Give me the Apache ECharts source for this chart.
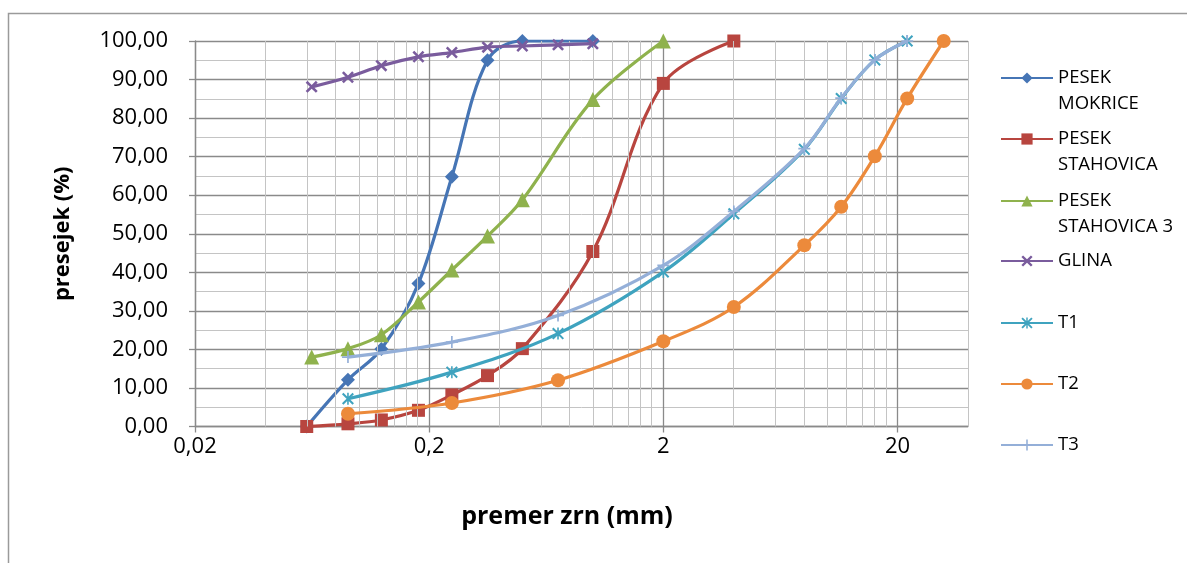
<!DOCTYPE html>
<html>
<head>
<meta charset="utf-8">
<title>Granulometrijska krivulja</title>
<script src="https://cdn.jsdelivr.net/npm/echarts@6/dist/echarts.min.js"></script>
<style>
  html, body { margin: 0; padding: 0; background: #ffffff; }
  #chart { width: 1187px; height: 563px; }
</style>
</head>
<body>
<div id="chart"></div>
<script>
// ---- data ---------------------------------------------------------------
// Sieve openings (mm) and passing percentages for each sample.
const X_MIN = 0.02;
const X_MAX = 40;
const xTickValues = [0.02, 0.2, 2, 20];
const yTickValues = [0, 10, 20, 30, 40, 50, 60, 70, 80, 90, 100];

const seriesNames = ['PESEK MOKRICE', 'PESEK STAHOVICA', 'PESEK STAHOVICA 3', 'GLINA', 'T1', 'T2', 'T3'];

const sizeMokrice = [0.06, 0.09, 0.125, 0.18, 0.25, 0.355, 0.5, 1.0];
const passMokrice = [0, 12.1, 20.1, 37.1, 64.8, 95.0, 100, 100];

const sizeStahovica = [0.06, 0.09, 0.125, 0.18, 0.25, 0.355, 0.5, 1.0, 2, 4];
const passStahovica = [0, 0.7, 1.7, 4.2, 8.2, 13.2, 20.2, 45.4, 89.0, 100];

const sizeStahovica3 = [0.063, 0.09, 0.125, 0.18, 0.25, 0.355, 0.5, 1.0, 2];
const passStahovica3 = [18.0, 20.2, 23.8, 32.3, 40.6, 49.4, 58.8, 84.8, 100];

const sizeGlina = [0.063, 0.09, 0.125, 0.18, 0.25, 0.355, 0.5, 0.71, 1.0];
const passGlina = [88.1, 90.6, 93.6, 95.9, 97.0, 98.4, 98.7, 99.0, 99.3];

const sizeT1 = [0.09, 0.25, 0.71, 2, 4, 8, 11.5, 16, 22];
const passT1 = [7.2, 14.1, 24.1, 40.1, 55.2, 71.9, 85.1, 95.1, 100];

const sizeT2 = [0.09, 0.25, 0.71, 2, 4, 8, 11.5, 16, 22, 31.5];
const passT2 = [3.3, 6.1, 12.0, 22.1, 31.0, 47.0, 57.0, 70.1, 85.1, 100];

const sizeT3 = [0.09, 0.25, 0.71, 2, 4, 8, 11.5, 16, 22];
const passT3 = [18.0, 21.9, 28.8, 41.8, 55.8, 72.1, 85.2, 95.1, 100];

// ---- helpers ------------------------------------------------------------
// The horizontal axis is logarithmic: positions are decades above X_MIN.
const toAxis = d => Math.log10(d / X_MIN);
const fromAxis = u => X_MIN * Math.pow(10, u);
const fmtComma = v => String(+v.toPrecision(3)).replace('.', ',');
const pairs = (xs, ys) => xs.map((x, i) => [toAxis(x), ys[i]]);

// Minor vertical grid: 2..9 multiples inside each decade (0.04, 0.06 ... 18)
const minorX = [];
for (let dec = 0; dec < 3; dec++) {
  for (let k = 2; k <= 9; k++) {
    minorX.push(toAxis(xTickValues[dec] * k));
  }
}
minorX.push(toAxis(X_MAX));

// Marker shapes
const SYM_X = 'path://M0,1.5L1.5,0L5,3.5L8.5,0L10,1.5L6.5,5L10,8.5L8.5,10L5,6.5L1.5,10L0,8.5L3.5,5Z';
const SYM_STAR = 'path://M0,1.2L1.2,0L5,3.8L8.8,0L10,1.2L6.2,5L10,8.8L8.8,10L5,6.2L1.2,10L0,8.8L3.8,5Z' +
                 'M4.35,0L5.65,0L5.65,10L4.35,10Z';
const SYM_PLUS = 'path://M4.3,0L5.7,0L5.7,4.3L10,4.3L10,5.7L5.7,5.7L5.7,10L4.3,10L4.3,5.7L0,5.7L0,4.3L4.3,4.3Z';

const colors = ['#4675b5', '#b8453f', '#8fb24d', '#7a5c9d', '#3fa3bf', '#ec8a3b', '#94afd8'];
const symbols = ['diamond', 'rect', 'triangle', SYM_X, SYM_STAR, 'circle', SYM_PLUS];
const symbolSizes = [14, 13, 15, 12, 12, 14, 12];
const dataSets = [
  pairs(sizeMokrice, passMokrice),
  pairs(sizeStahovica, passStahovica),
  pairs(sizeStahovica3, passStahovica3),
  pairs(sizeGlina, passGlina),
  pairs(sizeT1, passT1),
  pairs(sizeT2, passT2),
  pairs(sizeT3, passT3)
];

const FONT = '"Open Sans", "Noto Sans", sans-serif';
const GRID_DARK = '#8a8a8a';
const GRID_LIGHT = '#c4c4c4';

const series = seriesNames.map((name, i) => ({
  name: name,
  type: 'line',
  data: dataSets[i],
  smooth: 0.35,
  symbol: symbols[i],
  symbolSize: symbolSizes[i],
  showAllSymbol: true,
  z: 3 + i,
  lineStyle: { color: colors[i], width: 3.2 },
  itemStyle: { color: colors[i], borderWidth: 0 },
  emphasis: { disabled: true }
}));

// Minor vertical grid lines drawn behind the curves
series.unshift({
  name: 'minor-grid',
  type: 'line',
  data: [],
  z: 1,
  silent: true,
  markLine: {
    silent: true,
    symbol: 'none',
    label: { show: false },
    lineStyle: { color: GRID_LIGHT, width: 1, type: 'solid' },
    emphasis: { disabled: true },
    data: minorX.map(u => ({ xAxis: u }))
  }
});

// Legend: one block per entry, stacked down the right side.
// Two-word names wrap; a leading blank line keeps the icon level with the first word.
const legendCenters = [78, 139, 201, 261, 323, 384, 445];
const LH = 26;
const legends = seriesNames.map((name, i) => {
  const twoLine = name.indexOf('PESEK ') === 0;
  return {
    orient: 'vertical',
    left: 1000,
    top: legendCenters[i] - (twoLine ? LH * 1.5 : LH / 2),
    padding: 0,
    data: [name],
    itemWidth: 52,
    itemHeight: 14,
    selectedMode: false,
    formatter: n => (twoLine ? ' \n' + n.replace('PESEK ', 'PESEK\n') : n),
    textStyle: {
      fontFamily: FONT,
      fontSize: 18.5,
      color: '#000',
      lineHeight: LH
    }
  };
});

const chart = echarts.init(document.getElementById('chart'), null, { renderer: 'canvas' });
chart.setOption({
  animation: false,
  backgroundColor: '#ffffff',
  grid: { left: 195, top: 41, right: 219, bottom: 136.5, containLabel: false },
  legend: legends,
  xAxis: {
    type: 'value',
    min: 0,
    max: toAxis(X_MAX),
    interval: 1,
    name: 'premer zrn (mm)',
    nameLocation: 'middle',
    nameGap: 78,
    nameTextStyle: { fontFamily: FONT, fontSize: 25, fontWeight: 'bold', color: '#000',
                     padding: [0, 29, 0, 0] },
    axisLine: { show: true, lineStyle: { color: GRID_DARK, width: 1.3 } },
    axisTick: { show: true, length: 6, lineStyle: { color: GRID_DARK, width: 1.3 },
                customValues: xTickValues.map(toAxis) },
    axisLabel: {
      margin: 9,
      fontFamily: FONT, fontSize: 22, color: '#000',
      customValues: xTickValues.map(toAxis),
      formatter: u => {
        const r = Math.round(u);
        return Math.abs(u - r) < 1e-6 ? fmtComma(fromAxis(r)) : '';
      }
    },
    splitLine: { show: true, lineStyle: { color: GRID_DARK, width: 1.3 } }
  },
  yAxis: {
    type: 'value',
    min: 0,
    max: 100,
    interval: 10,
    name: 'presejek (%)',
    nameLocation: 'middle',
    nameRotate: 90,
    nameGap: 121,
    nameTextStyle: { fontFamily: FONT, fontSize: 22, fontWeight: 'bold', color: '#000' },
    axisLine: { show: true, lineStyle: { color: GRID_DARK, width: 1.3 } },
    axisTick: { show: true, length: 6, lineStyle: { color: GRID_DARK, width: 1.3 } },
    axisLabel: {
      margin: 27,
      fontFamily: FONT, fontSize: 22, color: '#000',
      customValues: yTickValues,
      formatter: v => v.toFixed(2).replace('.', ',')
    },
    splitLine: { show: true, lineStyle: { color: GRID_DARK, width: 1.3 } },
    minorTick: { show: false, splitNumber: 2 },
    minorSplitLine: { show: true, lineStyle: { color: GRID_LIGHT, width: 1 } }
  },
  graphic: [{
    type: 'rect',
    left: 6, top: 11,
    shape: { x: 0, y: 0, width: 1300, height: 700 },
    style: { fill: 'none', stroke: '#9a9a9a', lineWidth: 1.5 },
    silent: true,
    z: -10
  }],
  series: series
});
</script>
</body>
</html>
